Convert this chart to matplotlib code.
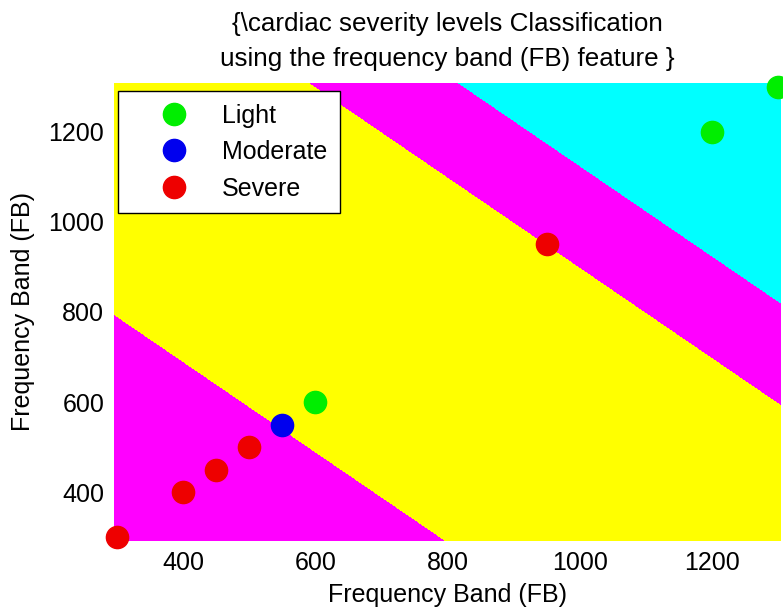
import matplotlib
matplotlib.use('Agg')
import matplotlib.pyplot as plt
import numpy as np

# feature values (FB on both axes) per severity class
light_x = [600, 1200, 1300]
light_y = [600, 1200, 1300]
moderate_x = [550]
moderate_y = [550]
severe_x = [300, 400, 450, 500, 950]
severe_y = [300, 400, 450, 500, 950]

# decision boundaries on x + y, and the colour of each region
bounds = [1090, 1900, 2125]
region_colors = ['#ff00ff', '#ffff00', '#ff00ff', '#00ffff']

ticks = [400, 600, 800, 1000, 1200]

plt.rcParams['font.family'] = ['Liberation Sans', 'DejaVu Sans']
plt.rcParams['font.size'] = 18

fig = plt.figure(figsize=(7.83, 6.08), dpi=100)
ax = fig.add_axes([0.1456, 0.1102, 0.8519, 0.7533])

gx, gy = np.meshgrid(np.linspace(280, 1320, 500), np.linspace(280, 1320, 500))
ax.contourf(gx, gy, gx + gy, levels=[0] + bounds + [4000], colors=region_colors)

ax.plot(light_x, light_y, 'o', color='#00ee00', ms=16, label='Light', clip_on=False, zorder=3)
ax.plot(moderate_x, moderate_y, 'o', color='#0000ee', ms=16, label='Moderate', clip_on=False, zorder=3)
ax.plot(severe_x, severe_y, 'o', color='#ee0000', ms=16, label='Severe', clip_on=False, zorder=3)

ax.set_xlim(295, 1305)
ax.set_ylim(292, 1308)
ax.set_xticks(ticks)
ax.set_yticks(ticks)
ax.tick_params(length=0, pad=7)
for s in ax.spines.values():
    s.set_visible(False)

ax.set_xlabel('Frequency Band (FB)', labelpad=6)
ax.set_ylabel('Frequency Band (FB)', labelpad=10)
ax.set_title('{\\cardiac severity levels Classification\nusing the frequency band (FB) feature }',
             fontsize=18.7, linespacing=1.6, pad=12)

leg = ax.legend(loc='upper left', bbox_to_anchor=(0.006, 0.9825), borderaxespad=0,
                fancybox=False, edgecolor='black', framealpha=1, borderpad=0.5,
                handlelength=3.5, handletextpad=0.15, labelspacing=0.5, numpoints=1)
leg.get_frame().set_linewidth(1.0)
leg.set_zorder(5)

fig.savefig('out.png', dpi=100)
